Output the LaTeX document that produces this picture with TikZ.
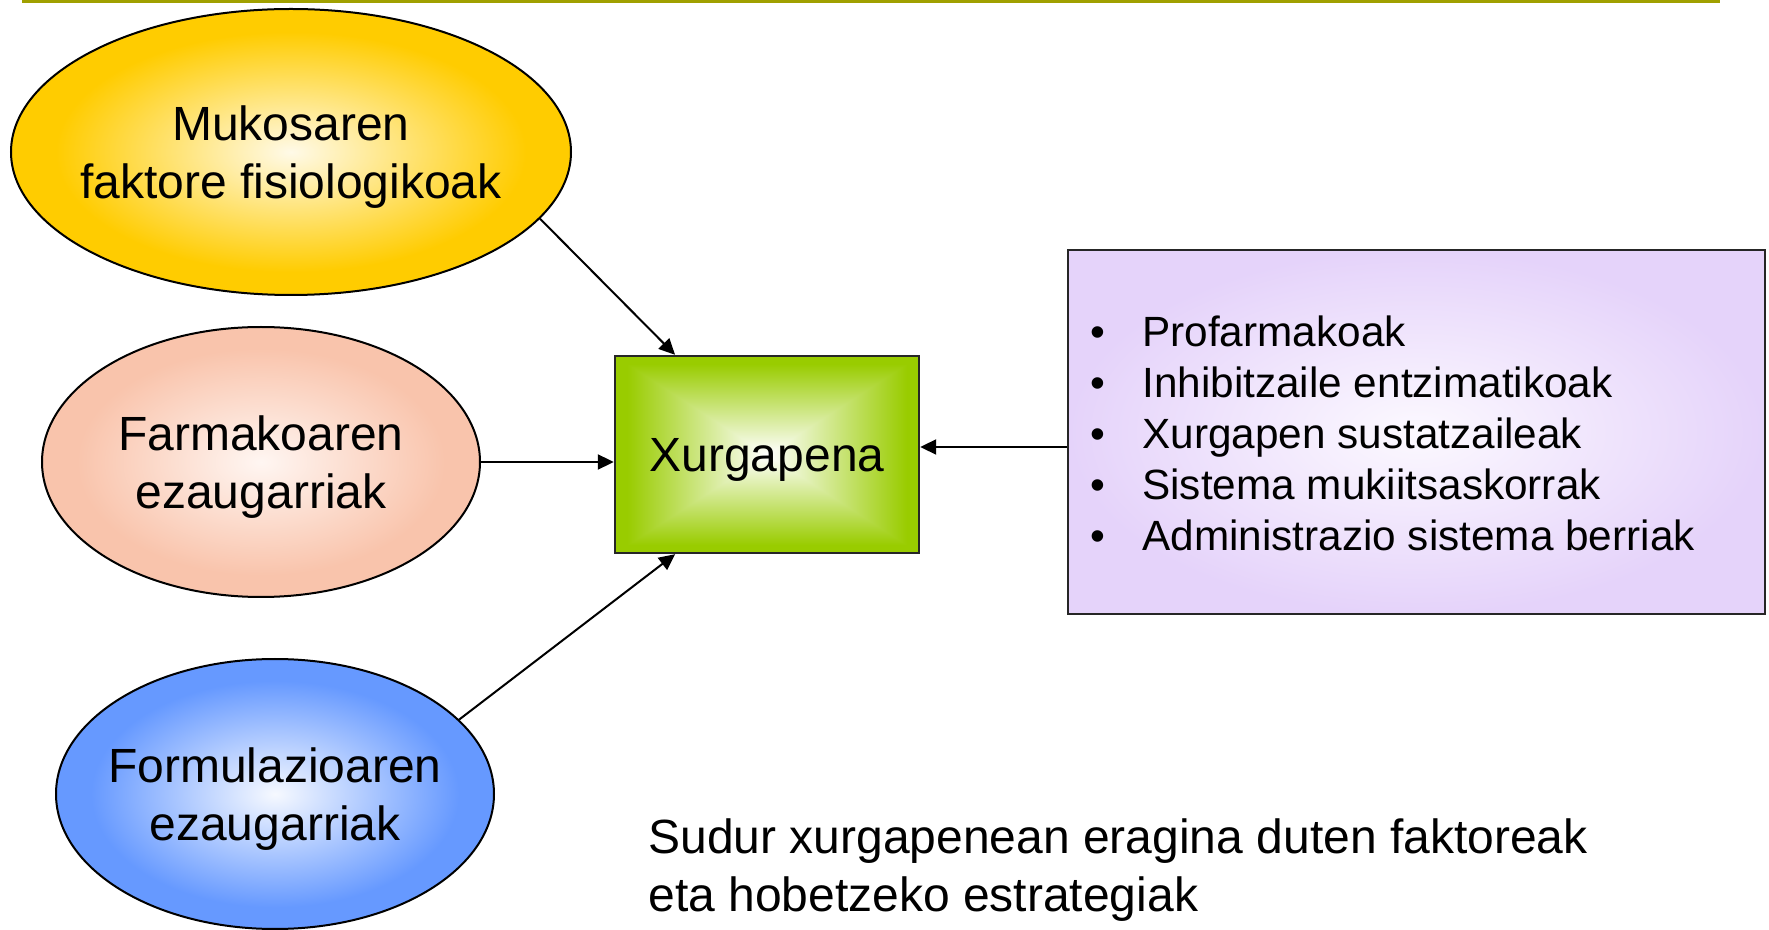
\documentclass[tikz,border=0pt]{standalone}
\usepackage{fontspec}
\setmainfont{Liberation Sans}
\usetikzlibrary{positioning, arrows.meta, shapes.geometric, calc}

\definecolor{titleolive}{RGB}{160,160,0}
\definecolor{mukoyellow}{RGB}{255,204,0}
\definecolor{mukolight}{RGB}{255,250,232}
\definecolor{farmapink}{RGB}{249,196,172}
\definecolor{farmalight}{RGB}{255,246,242}
\definecolor{formublue}{RGB}{102,153,255}
\definecolor{formulight}{RGB}{246,249,255}
\definecolor{stratlilac}{RGB}{229,211,250}
\definecolor{stratlight}{RGB}{252,249,255}

\pgfdeclareradialshading{mukofade}{\pgfpointorigin}{color(0bp)=(mukolight); color(21bp)=(mukoyellow); color(50bp)=(mukoyellow)}
\pgfdeclareradialshading{farmafade}{\pgfpointorigin}{color(0bp)=(farmalight); color(21bp)=(farmapink); color(50bp)=(farmapink)}
\pgfdeclareradialshading{formufade}{\pgfpointorigin}{color(0bp)=(formulight); color(21bp)=(formublue); color(50bp)=(formublue)}
\pgfdeclareradialshading{stratfade}{\pgfpointorigin}{color(0bp)=(stratlight); color(25bp)=(stratlilac); color(50bp)=(stratlilac)}
% rectangular fade, white centre to green rim
\pgfdeclarefunctionalshading{greenfade}{\pgfpoint{-50bp}{-50bp}}{\pgfpoint{50bp}{50bp}}{}{
  abs exch abs 2 copy lt {exch} if pop
  23 div dup 1 gt {pop 1} if
  dup 0.4 mul 1 exch sub
  exch dup 0.2 mul 1 exch sub
  exch 1 exch sub
}

\begin{document}
\begin{tikzpicture}[x=0.5pt, y=-0.5pt,
    oval/.style={ellipse, draw=black, line width=1pt, shade, inner xsep=-10pt, inner ysep=0pt,
                 align=center, text depth=0pt, font=\fontsize{24}{28.75}\selectfont},
    panel/.style={rectangle, draw=black!85, line width=1.2pt, shade},
    conn/.style={-{Triangle[length=8pt, width=7.5pt]}, line width=1pt}]
    \useasboundingbox (0,0) rectangle (1769,930);

    \draw[titleolive, line width=1.5pt] (22,1.5) -- (1720,1.5);

    \node[oval, shading=mukofade, minimum width=280pt, minimum height=143pt] (muko) at (291,152)
        {Mukosaren\\faktore fisiologikoak};
    \node[oval, shading=farmafade, minimum width=219pt, minimum height=135pt] (farma) at (261,462)
        {Farmakoaren\\ezaugarriak};
    \node[oval, shading=formufade, minimum width=219pt, minimum height=135pt] (formu) at (275,794)
        {Formulazioaren\\ezaugarriak};

    \node[panel, shading=greenfade, minimum width=152pt, minimum height=98.5pt, text depth=0pt,
          font=\fontsize{24}{28.75}\selectfont] (xurga) at (767,454.5) {Xurgapena};

    \node[panel, shading=stratfade, minimum width=348.5pt, minimum height=182pt] (strat) at (1416.5,432) {};
    \node[anchor=west, align=left, inner sep=0pt, font=\fontsize{21.15}{25.5}\selectfont] (stratlist) at (1090,433) {
        \makebox[26pt][l]{\textbullet}Profarmakoak\\
        \makebox[26pt][l]{\textbullet}Inhibitzaile entzimatikoak\\
        \makebox[26pt][l]{\textbullet}Xurgapen sustatzaileak\\
        \makebox[26pt][l]{\textbullet}Sistema mukiitsaskorrak\\
        \makebox[26pt][l]{\textbullet}Administrazio sistema berriak};

    \node[anchor=west, align=left, inner sep=0pt, text depth=0pt, font=\fontsize{24}{28.75}\selectfont] (caption) at (648,865)
        {Sudur xurgapenean eragina duten faktoreak\\eta hobetzeko estrategiak};

    % arrows into the absorption box
    \coordinate (stratin) at ($(strat.west)+(0,15)$);
    \draw[conn] (muko.-15) -- ($(xurga.north west)!0.2!(xurga.north east)$);
    \draw[conn] (farma.east) -- (farma.east -| xurga.west);
    \draw[conn] (formu.22) -- ($(xurga.south west)!0.2!(xurga.south east)$);
    \draw[conn] (stratin) -- (stratin -| xurga.east);
\end{tikzpicture}
\end{document}
